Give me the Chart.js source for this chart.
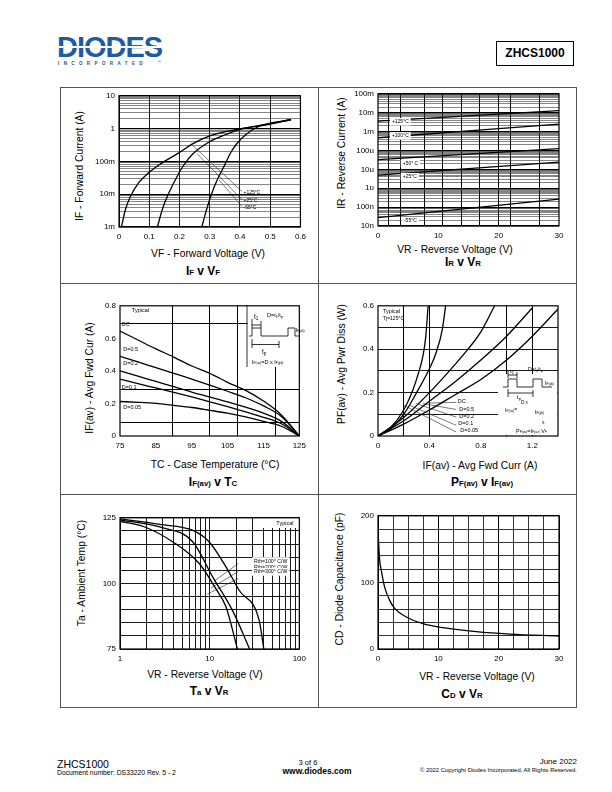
<!DOCTYPE html>
<html><head><meta charset="utf-8">
<script src="https://cdn.jsdelivr.net/npm/chart.js@4.4.1/dist/chart.umd.min.js"></script>
<style>
html,body{margin:0;padding:0}
body{width:612px;height:792px;position:relative;background:#fff;font-family:'Liberation Sans',Arial,sans-serif;color:#000;overflow:hidden}
.t{position:absolute;white-space:nowrap;line-height:1}
.c{transform:translateX(-50%)}
.r{transform:translateX(-100%)}
.rot{transform:translate(-50%,-50%) rotate(-90deg)}
.ln{position:absolute;background:#555}
canvas{position:absolute}
.ttl{font-weight:bold;font-size:12px}
.ttl small{font-size:7.8px}
.ax{font-size:10.3px}
</style></head><body>

<!-- header -->
<div class="t" style="left:57px;top:33px;font-size:29px;font-weight:bold;color:#1d5ba4;letter-spacing:-1px">DIODES</div>
<div style="position:absolute;left:56px;top:46px;width:108px;height:2px;background:#fff"></div>
<div class="t" style="left:58px;top:62px;font-size:4.5px;font-weight:bold;letter-spacing:4.4px;color:#2b4a7a">INCORPORATED</div>
<div class="t" style="left:158px;top:60px;font-size:4px;color:#1d5ba4">®</div>
<div style="position:absolute;left:496px;top:41px;width:78px;height:25px;border:1px solid #000;box-sizing:border-box"></div>
<div class="t c" style="left:535px;top:47px;font-size:12px;font-weight:bold">ZHCS1000</div>

<!-- frame -->
<div class="ln" style="left:60px;top:87px;width:517px;height:1px"></div>
<div class="ln" style="left:60px;top:283px;width:517px;height:1px"></div>
<div class="ln" style="left:60px;top:494px;width:517px;height:1px"></div>
<div class="ln" style="left:60px;top:707px;width:517px;height:1px"></div>
<div class="ln" style="left:60px;top:87px;width:1px;height:621px"></div>
<div class="ln" style="left:318px;top:87px;width:1px;height:621px"></div>
<div class="ln" style="left:576px;top:87px;width:1px;height:621px"></div>

<!-- chart 1 texts -->
<div class="t rot ax" style="left:80px;top:166px">IF - Forward Current (A)</div>
<div class="t c ax" style="left:208px;top:249px">VF - Forward Voltage (V)</div>
<div class="t c ttl" style="left:203px;top:265px">I<small>F</small> v V<small>F</small></div>
<!-- chart 2 texts -->
<div class="t rot ax" style="left:342px;top:153px">IR - Reverse Current (A)</div>
<div class="t c ax" style="left:455px;top:245px">VR - Reverse Voltage (V)</div>
<div class="t c ttl" style="left:463px;top:256px">I<small>R</small> v V<small>R</small></div>
<!-- chart 3 texts -->
<div class="t rot ax" style="left:90px;top:378px">IF(av) - Avg Fwd Cur (A)</div>
<div class="t c ax" style="left:215px;top:460px">TC - Case Temperature (°C)</div>
<div class="t c ttl" style="left:213px;top:476px">I<small>F(av)</small> v T<small>C</small></div>
<!-- chart 4 texts -->
<div class="t rot ax" style="left:342px;top:364px">PF(av) - Avg Pwr Diss (W)</div>
<div class="t c ax" style="left:480px;top:461px">IF(av) - Avg Fwd Curr (A)</div>
<div class="t c ttl" style="left:482px;top:476px">P<small>F(av)</small> v I<small>F(av)</small></div>
<!-- chart 5 texts -->
<div class="t rot ax" style="left:82px;top:573px">Ta - Ambient Temp (°C)</div>
<div class="t c ax" style="left:205px;top:670px">VR - Reverse Voltage (V)</div>
<div class="t c ttl" style="left:209px;top:685px">T<small>a</small> v V<small>R</small></div>
<!-- chart 6 texts -->
<div class="t rot ax" style="left:340px;top:579px">CD - Diode Capacitance (pF)</div>
<div class="t c ax" style="left:477px;top:672px">VR - Reverse Voltage (V)</div>
<div class="t c ttl" style="left:462px;top:688px">C<small>D</small> v V<small>R</small></div>

<!-- footer -->
<div class="t" style="left:57px;top:759px;font-size:10.5px">ZHCS1000</div>
<div class="t" style="left:57px;top:769.5px;font-size:6.8px">Document number: DS33220 Rev. 5 - 2</div>
<div class="t c" style="left:308px;top:759px;font-size:7.5px">3 of 6</div>
<div class="t c" style="left:317px;top:767px;font-size:8.5px;font-weight:bold">www.diodes.com</div>
<div class="t r" style="left:577px;top:758px;font-size:8px">June 2022</div>
<div class="t r" style="left:577px;top:768px;font-size:5.9px">© 2022 Copyright Diodes Incorporated. All Rights Reserved.</div>

<script>
// ================= DATA =================
// IF v VF
const vfTickValues = [0, 0.1, 0.2, 0.3, 0.4, 0.5, 0.6];
const vfTickLabels = ['0', '0.1', '0.2', '0.3', '0.4', '0.5', '0.6'];
const ifTickValues = [0.001, 0.01, 0.1, 1, 10];
const ifTickLabels = ['1m', '10m', '100m', '1', '10'];
const vfAt125 = [0.008, 0.022, 0.039, 0.066, 0.097, 0.133, 0.199, 0.24, 0.298, 0.398, 0.5, 0.569];
const ifAt125 = [0.001, 0.0036, 0.009, 0.023, 0.044, 0.079, 0.185, 0.33, 0.59, 0.98, 1.42, 1.9];
const vfAt25 = [0.127, 0.144, 0.166, 0.193, 0.215, 0.243, 0.298, 0.354, 0.398, 0.5, 0.569];
const ifAt25 = [0.001, 0.0036, 0.0115, 0.036, 0.079, 0.165, 0.39, 0.66, 0.93, 1.36, 1.88];
const vfAtM55 = [0.274, 0.287, 0.304, 0.326, 0.348, 0.37, 0.392, 0.42, 0.464, 0.569];
const ifAtM55 = [0.001, 0.0028, 0.009, 0.029, 0.072, 0.19, 0.37, 0.66, 1.18, 1.86];
const vfTempNames = ['+125°C', '+25°C', '-55°C'];
const vfNameAtV = [0.412, 0.412, 0.412];
const vfNameAtI = [0.0115, 0.0065, 0.004];
const vfLeaderV = [[0.24, 0.407], [0.26, 0.407], [0.331, 0.407]];
const vfLeaderI = [[0.33, 0.012], [0.166, 0.0068], [0.027, 0.0042]];

// IR v VR
const vrTickValues = [0, 10, 20, 30];
const vrTickLabels = ['0', '10', '20', '30'];
const irTickValues = [1e-8, 1e-7, 1e-6, 1e-5, 1e-4, 1e-3, 1e-2, 1e-1];
const irTickLabels = ['10n', '100n', '1u', '10u', '100u', '1m', '10m', '100m'];
const irVolts = [0, 30];
const irAt125 = [3.6e-3, 12.9e-3];
const irAt100 = [0.47e-3, 2.5e-3];
const irAt50 = [33e-6, 126e-6];
const irAt25 = [4.9e-6, 24e-6];
const irAtM55 = [27.5e-9, 263e-9];
const irTempNames = ['+125°C', '+100°C', '+50° C', '+25°C', '-55°C'];
const irNameAtV = [2.3, 2.3, 4.1, 4.1, 4.3];
const irNameAtI = [3.3e-3, 0.59e-3, 20e-6, 4.1e-6, 19e-9];
const irGridV = [1.8, 3.8, 7.7, 10.7, 13.8, 16.9, 19.9, 21.9, 26.8];

// IF(av) v TC
const tcTickValues = [75, 85, 95, 105, 115, 125];
const tcTickLabels = ['75', '85', '95', '105', '115', '125'];
const ifavTickValues = [0, 0.2, 0.4, 0.6, 0.8];
const ifavTickLabels = ['0', '0.2', '0.4', '0.6', '0.8'];
const tcTemps = [75, 80, 85, 90, 95, 100, 105, 110, 115, 120, 125];
const ifavDC = [0.645, 0.59, 0.535, 0.485, 0.43, 0.385, 0.33, 0.28, 0.215, 0.13, 0];
const ifavD05 = [0.49, 0.455, 0.42, 0.385, 0.35, 0.313, 0.275, 0.235, 0.185, 0.12, 0];
const ifavD02 = [0.40, 0.368, 0.335, 0.303, 0.27, 0.24, 0.21, 0.177, 0.14, 0.09, 0];
const ifavD01 = [0.35, 0.322, 0.295, 0.268, 0.24, 0.21, 0.18, 0.148, 0.115, 0.075, 0];
const ifavD005 = [0.212, 0.207, 0.20, 0.188, 0.175, 0.158, 0.14, 0.117, 0.09, 0.06, 0];
const tcCurveNames = ['Typical', 'DC', 'D=0.5', 'D=0.2', 'D=0.1', 'D=0.05'];
const tcNameAtT = [78.3, 75.5, 75.9, 75.9, 75.5, 75.9];
const tcNameAtI = [0.77, 0.688, 0.529, 0.443, 0.30, 0.174];
const tcGridT = [89.5, 99.9, 107.9, 118.4];
const tcGridI = [0.082, 0.286, 0.694];

// PF(av) v IF(av)
const pfIfTickValues = [0, 0.4, 0.8, 1.2];
const pfIfTickLabels = ['0', '0.4', '0.8', '1.2'];
const pfTickValues = [0, 0.2, 0.4, 0.6];
const pfTickLabels = ['0', '0.2', '0.4', '0.6'];
const pfIfD005 = [0, 0.1, 0.2, 0.27, 0.32, 0.35, 0.37, 0.39];
const pfD005 = [0, 0.04, 0.12, 0.21, 0.3, 0.37, 0.45, 0.6];
const pfIfD01 = [0, 0.1, 0.2, 0.3, 0.4, 0.45, 0.5, 0.526];
const pfD01 = [0, 0.035, 0.1, 0.2, 0.31, 0.38, 0.49, 0.6];
const pfIfD02 = [0, 0.2, 0.4, 0.6, 0.7, 0.8, 0.907];
const pfD02 = [0, 0.085, 0.2, 0.33, 0.4, 0.48, 0.6];
const pfIfD05 = [0, 0.2, 0.4, 0.6, 0.8, 1.0, 1.2];
const pfD05 = [0, 0.07, 0.16, 0.25, 0.35, 0.46, 0.59];
const pfIfDC = [0, 0.2, 0.4, 0.6, 0.8, 1.0, 1.2, 1.4];
const pfDC = [0, 0.055, 0.12, 0.19, 0.26, 0.35, 0.46, 0.585];
const pfCurveNames = ['DC', 'D=0.5', 'D=0.2', 'D=0.1', 'D=0.05'];
const pfNameAtIf = [0.62, 0.632, 0.632, 0.625, 0.64];
const pfNameAtPf = [0.157, 0.121, 0.088, 0.056, 0.025];
const pfLeaderIf = [[0.402, 0.609], [0.35, 0.609], [0.298, 0.609], [0.246, 0.609], [0.202, 0.609]];
const pfLeaderPf = [[0.152, 0.155], [0.149, 0.122], [0.149, 0.087], [0.141, 0.049], [0.141, 0.018]];
const pfGridIf = [0.2, 0.4, 1.0, 1.2];
const pfGridPf = [0.1, 0.2, 0.3, 0.4, 0.5];

// Ta v VR
const vr5TickValues = [1, 10, 100];
const vr5TickLabels = ['1', '10', '100'];
const taTickValues = [75, 100, 125];
const taTickLabels = ['75', '100', '125'];
const vrR300 = [1, 1.89, 3.89, 7.69, 11.7, 15.2, 20.4];
const taR300 = [123.7, 121.5, 115.8, 107.5, 98, 91.1, 75];
const vrR200 = [1, 2.77, 6.5, 10.8, 17.9, 27.9];
const taR200 = [124.2, 121.5, 115.8, 102.5, 89.8, 75];
const vrR100 = [1, 2.77, 6.5, 9.9, 15.2, 21.3, 35.6, 40.2];
const taR100 = [124.6, 122.5, 120.2, 115.8, 106.3, 97.4, 86, 75];
const rthNames = ['Rth=100° C/W', 'Rth=200° C/W', 'Rth=300° C/W'];
const rthNameAtV = [31.2, 31.2, 31.2];
const rthNameAtTa = [108.5, 106.2, 104.4];
const rthLeaderV = [[20.9, 11.2], [20.9, 10.3], [20.9, 9.4]];
const rthLeaderTa = [[107.6, 100.8], [104.5, 98.2], [101.9, 95.9]];
const taGrid = [80, 85, 90, 95, 105, 110, 115, 120];

// CD v VR
const vr6TickValues = [0, 10, 20, 30];
const vr6TickLabels = ['0', '10', '20', '30'];
const cdTickValues = [0, 100, 200];
const cdTickLabels = ['0', '100', '200'];
const vrCap = [0, 0.11, 0.28, 0.55, 1.1, 1.93, 2.76, 4.7, 7.46, 10.8, 16.3, 21.8, 30];
const cdCap = [180, 158, 133, 118, 93, 73, 61, 48, 38, 32, 26, 22.4, 19.4];
const vr6Grid = [2.5, 5, 7.5, 12.5, 15, 17.5, 22.5, 25, 27.5];
const cdGrid = [20, 40, 60, 80, 120, 140, 160, 180];

// ================= HELPERS =================
const FONT = "'Liberation Sans', Arial, Helvetica, sans-serif";
const YW = 34, PT = 8, PR = 10, XH = 16;
const pts = (xs, ys) => xs.map((x, i) => ({ x, y: ys[i] }));
const curve = (xs, ys, w) => ({ data: pts(xs, ys), showLine: true, borderColor: '#000', borderWidth: w || 1.3, pointRadius: 0, cubicInterpolationMode: 'monotone', fill: false });
const leader = (xs, ys) => ({ data: pts(xs, ys), showLine: true, borderColor: '#222', borderWidth: 0.6, pointRadius: 0, fill: false });

function logGridValues(decades) {
  const out = [];
  for (let i = 0; i < decades.length - 1; i++) for (let m = 1; m < 10; m++) out.push(+(m * decades[i]).toPrecision(3));
  out.push(decades[decades.length - 1]);
  return out;
}
function mainAxis(type, pos, min, max, values, labels, tickVals, gridStyle) {
  const map = new Map(values.map((v, i) => [v, labels[i]]));
  const tv = tickVals || values;
  return {
    type, position: pos, min, max, axis: (pos === 'bottom') ? 'x' : 'y',
    afterFit: s => { if (pos === 'bottom') s.height = XH; else s.width = YW; },
    afterBuildTicks: s => { s.ticks = tv.map(v => ({ value: v })); },
    ticks: { autoSkip: false, maxRotation: 0, minRotation: 0, padding: pos === 'bottom' ? 5 : 4, color: '#000',
      font: { family: FONT, size: 8 }, callback: v => { for (const [k, l] of map) if (Math.abs(k - v) < Math.abs(k) * 1e-6 + 1e-12) return l; return ''; } },
    grid: gridStyle ? Object.assign({ drawTicks: false }, gridStyle) : { display: false, drawTicks: false },
    border: { display: false }
  };
}
function gridAxis(type, pos, min, max, values, color, width) {
  return {
    type, position: pos, min, max, axis: (pos === 'bottom') ? 'x' : 'y',
    afterFit: s => { if (pos === 'bottom') s.height = 0; else s.width = 0; },
    afterBuildTicks: s => { s.ticks = values.map(v => ({ value: v })); },
    ticks: { display: false },
    grid: { drawTicks: false, color: color || '#111', lineWidth: width || 0.8 },
    border: { display: false }
  };
}
function richText(ctx, x, y, segs, align) {
  let w = 0;
  segs.forEach(s => { ctx.font = s[1] + 'px ' + FONT; w += ctx.measureText(s[0]).width; });
  let cx = align === 'right' ? x - w : x;
  segs.forEach(s => { ctx.font = s[1] + 'px ' + FONT; ctx.fillText(s[0], cx, y + (s[2] || 0)); cx += ctx.measureText(s[0]).width; });
}
function decor(spec) {
  return {
    id: 'decor',
    beforeDatasetsDraw(chart) {
      const ctx = chart.ctx, a = chart.chartArea, ox = chart.canvas.offsetLeft, oy = chart.canvas.offsetTop;
      ctx.save();
      ctx.fillStyle = '#fff';
      (spec.whites || []).forEach(r => ctx.fillRect(r[0] - ox, r[1] - oy, r[2] - r[0], r[3] - r[1]));
      ctx.strokeStyle = '#000'; ctx.lineWidth = 1.2;
      ctx.strokeRect(a.left, a.top, a.right - a.left, a.bottom - a.top);
      ctx.restore();
    },
    afterDatasetsDraw(chart) {
      const ctx = chart.ctx, ox = chart.canvas.offsetLeft, oy = chart.canvas.offsetTop;
      const sx = chart.scales.x, sy = chart.scales.y;
      ctx.save();
      ctx.strokeStyle = '#000'; ctx.lineWidth = 0.8;
      (spec.lines || []).forEach(pl => { ctx.beginPath(); pl.forEach((p, i) => { i ? ctx.lineTo(p[0] - ox, p[1] - oy) : ctx.moveTo(p[0] - ox, p[1] - oy); }); ctx.stroke(); });
      ctx.fillStyle = '#000'; ctx.textBaseline = 'middle';
      (spec.texts || []).forEach(t => { ctx.fillStyle = '#000'; richText(ctx, t.x - ox, t.y - oy, t.s, t.align); });
      (spec.labels || []).forEach(L => {
        const px = sx.getPixelForValue(L.x), py = sy.getPixelForValue(L.y), sz = L.size || 5.5;
        ctx.font = (L.bold ? 'bold ' : '') + sz + 'px ' + FONT;
        const w = ctx.measureText(L.text).width;
        const x0 = L.align === 'right' ? px - w : px;
        if (L.box) { ctx.fillStyle = '#fff'; ctx.fillRect(x0 - 2, py - sz * 0.75, w + 4, sz * 1.5); }
        ctx.fillStyle = '#000'; ctx.fillText(L.text, x0, py);
      });
      ctx.restore();
    }
  };
}
function mount(box, datasets, scales, spec) {
  const c = document.createElement('canvas');
  const left = box[0] - YW, top = box[1] - PT, w = box[2] - box[0] + YW + PR, h = box[3] - box[1] + PT + XH;
  c.width = w; c.height = h;
  c.style.left = left + 'px'; c.style.top = top + 'px'; c.style.width = w + 'px'; c.style.height = h + 'px';
  document.body.appendChild(c);
  return new Chart(c, {
    type: 'scatter',
    data: { datasets },
    options: {
      responsive: false, animation: false, devicePixelRatio: 1, events: [],
      layout: { padding: { left: 0, top: PT, right: PR, bottom: 0 } },
      plugins: { legend: { display: false }, tooltip: { enabled: false }, title: { display: false } },
      scales
    },
    plugins: [decor(spec || {})]
  });
}
const isDecade = v => { const l = Math.log10(v); return Math.abs(l - Math.round(l)) < 1e-6; };
const logGrid = { color: ctx => (ctx.tick && isDecade(ctx.tick.value)) ? '#000' : '#333', lineWidth: ctx => (ctx.tick && isDecade(ctx.tick.value)) ? 1.2 : 0.6 };

// ================= CHART 1: IF v VF =================
mount([119, 95, 301, 227],
  [curve(vfAt125, ifAt125), curve(vfAt25, ifAt25), curve(vfAtM55, ifAtM55)]
    .concat(vfLeaderV.map((v, i) => leader(v, vfLeaderI[i]))),
  {
    x: mainAxis('linear', 'bottom', 0, 0.6, vfTickValues, vfTickLabels, null, { color: '#000', lineWidth: 0.9 }),
    y: mainAxis('logarithmic', 'left', 0.001, 10, ifTickValues, ifTickLabels, logGridValues(ifTickValues), logGrid)
  },
  { labels: vfTempNames.map((t, i) => ({ text: t, x: vfNameAtV[i], y: vfNameAtI[i], size: 5 })) });

// ================= CHART 2: IR v VR =================
mount([378, 93, 559, 226],
  [curve(irVolts, irAt125), curve(irVolts, irAt100), curve(irVolts, irAt50), curve(irVolts, irAt25), curve(irVolts, irAtM55)],
  {
    x: mainAxis('linear', 'bottom', 0, 30, vrTickValues, vrTickLabels),
    gx: gridAxis('linear', 'bottom', 0, 30, irGridV, '#000', 1),
    y: mainAxis('logarithmic', 'left', 1e-8, 0.1, irTickValues, irTickLabels, logGridValues(irTickValues), logGrid)
  },
  { labels: irTempNames.map((t, i) => ({ text: t, x: irNameAtV[i], y: irNameAtI[i], size: 5, box: true })) });

// ================= CHART 3: IF(av) v TC =================
mount([120, 305, 301, 436],
  [curve(tcTemps, ifavDC), curve(tcTemps, ifavD05), curve(tcTemps, ifavD02), curve(tcTemps, ifavD01), curve(tcTemps, ifavD005)],
  {
    x: mainAxis('linear', 'bottom', 75, 125, tcTickValues, tcTickLabels),
    gx: gridAxis('linear', 'bottom', 75, 125, tcGridT, '#000', 1),
    y: mainAxis('linear', 'left', 0, 0.8, ifavTickValues, ifavTickLabels),
    gy: gridAxis('linear', 'left', 0, 0.8, tcGridI, '#000', 1)
  },
  {
    whites: [[247.5, 305.6, 300.4, 367]],
    lines: [
      [[247, 305], [247, 367]],
      [[249, 336], [252, 336], [252, 328], [261, 328], [261, 336], [288, 336], [288, 328], [295, 328], [295, 336], [300, 336]],
      [[252, 319], [252, 328]], [[261, 321], [261, 328]], [[252, 325], [261, 325]],
      [[252, 339], [252, 348]], [[279, 341], [279, 348]], [[252, 344.5], [279, 344.5]]
    ],
    texts: [
      { x: 254, y: 317, s: [['t', 6.5], ['1', 4.5, 1.5]] },
      { x: 267, y: 315, s: [['D=t', 5.5], ['1', 3.8, 1.5], ['/t', 5.5], ['p', 3.8, 1.5]] },
      { x: 295.5, y: 330, s: [['I', 5.5], ['F(pk)', 3.3, 1.5]] },
      { x: 262, y: 352, s: [['t', 6.5], ['p', 4.5, 1.5]] },
      { x: 252, y: 362, s: [['I', 5.5], ['F(av)', 3.3, 1.5], ['=D x I', 5.5], ['F(pk)', 3.3, 1.5]] }
    ],
    labels: tcCurveNames.map((t, i) => ({ text: t, x: tcNameAtT[i], y: tcNameAtI[i], size: 5.5 }))
  });

// ================= CHART 4: PF(av) v IF(av) =================
mount([378, 305, 558, 436],
  [curve(pfIfD005, pfD005), curve(pfIfD01, pfD01), curve(pfIfD02, pfD02), curve(pfIfD05, pfD05), curve(pfIfDC, pfDC)]
    .concat(pfLeaderIf.map((v, i) => leader(v, pfLeaderPf[i]))),
  {
    x: mainAxis('linear', 'bottom', 0, 1.4, pfIfTickValues, pfIfTickLabels),
    gx: gridAxis('linear', 'bottom', 0, 1.4, pfGridIf, '#000', 1),
    y: mainAxis('linear', 'left', 0, 0.6, pfTickValues, pfTickLabels),
    gy: gridAxis('linear', 'left', 0, 0.6, pfGridPf, '#000', 0.9)
  },
  {
    whites: [[498, 374, 557.4, 435]],
    lines: [
      [[503, 387], [508, 387], [508, 379], [517, 379], [517, 387], [533, 387], [533, 379], [542, 379], [542, 387], [552, 387]],
      [[508, 370], [508, 378]], [[517, 372], [517, 378]], [[508, 375], [517, 375]],
      [[508, 389], [508, 397]], [[533, 390], [533, 397]], [[508, 393], [533, 393]]
    ],
    texts: [
      { x: 383, y: 311, s: [['Typical', 5.5]] },
      { x: 383, y: 318.5, s: [['Tj=125°C', 5]] },
      { x: 510, y: 371, s: [['t', 6], ['1', 4, 1.5]] },
      { x: 528, y: 370, s: [['D=t', 5], ['1', 3.5, 1.5], ['/t', 5], ['p', 3.5, 1.5]] },
      { x: 545, y: 383, s: [['I', 5.5], ['F(pk)', 3.3, 1.5]] },
      { x: 517, y: 397, s: [['t', 6], ['p', 4, 1.5]] },
      { x: 521, y: 403, s: [['D x', 4.5]] },
      { x: 505, y: 410, s: [['I', 5.5], ['F(av)', 3.3, 1.5], ['=', 5]] },
      { x: 535, y: 412, s: [['I', 5.5], ['F(pk)', 3.3, 1.5]] },
      { x: 542, y: 423, s: [['x', 5]] },
      { x: 516, y: 431, s: [['P', 5.5], ['F(av)', 3.3, 1.5], ['=I', 5.5], ['F(av)', 3.3, 1.5], [' V', 5.5], ['F', 3.3, 1.5]] }
    ],
    labels: pfCurveNames.map((t, i) => ({ text: t, x: pfNameAtIf[i], y: pfNameAtPf[i], size: 5.5 }))
  });

// ================= CHART 5: Ta v VR =================
mount([120, 517, 301, 649],
  [curve(vrR300, taR300), curve(vrR200, taR200), curve(vrR100, taR100)]
    .concat(rthLeaderV.map((v, i) => leader(v, rthLeaderTa[i]))),
  {
    x: mainAxis('logarithmic', 'bottom', 1, 100, vr5TickValues, vr5TickLabels, logGridValues(vr5TickValues), { color: '#000', lineWidth: 0.9 }),
    y: mainAxis('linear', 'left', 75, 125, taTickValues, taTickLabels, null, { color: '#000', lineWidth: 0.9 }),
    gy: gridAxis('linear', 'left', 75, 125, taGrid, '#000', 0.9)
  },
  {
    whites: [[262, 518, 300.4, 528]],
    labels: [{ text: 'Typical', x: 86, y: 122.7, size: 5.5, align: 'right' }]
      .concat(rthNames.map((t, i) => ({ text: t, x: rthNameAtV[i], y: rthNameAtTa[i], size: 5.2, box: true })))
  });

// ================= CHART 6: CD v VR =================
mount([378, 515, 559, 649],
  [curve(vrCap, cdCap)],
  {
    x: mainAxis('linear', 'bottom', 0, 30, vr6TickValues, vr6TickLabels, null, { color: '#000', lineWidth: 1 }),
    gx: gridAxis('linear', 'bottom', 0, 30, vr6Grid, '#000', 0.8),
    y: mainAxis('linear', 'left', 0, 200, cdTickValues, cdTickLabels, null, { color: '#000', lineWidth: 1 }),
    gy: gridAxis('linear', 'left', 0, 200, cdGrid, '#000', 0.8)
  },
  {});
</script>
</body></html>
